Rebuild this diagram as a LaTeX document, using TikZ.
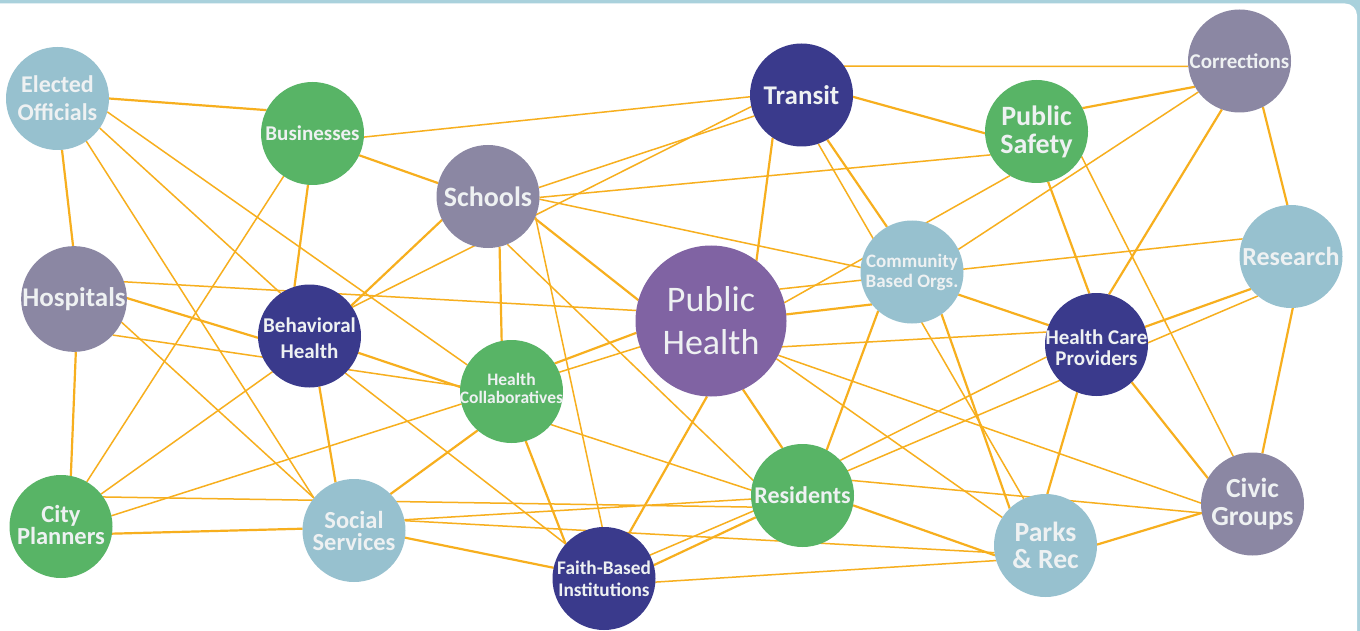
\documentclass[tikz,border=0pt]{standalone}
\usepackage{fontspec}
\setmainfont{Carlito}
\usetikzlibrary{backgrounds}

\definecolor{skyc}{HTML}{97C1CF}
\definecolor{leaf}{HTML}{58B466}
\definecolor{slate}{HTML}{8B87A3}
\definecolor{navy}{HTML}{3A3A8C}
\definecolor{plum}{HTML}{8063A3}
\definecolor{wire}{HTML}{F7AF1E}
\definecolor{labeltext}{HTML}{EEF1F2}
\definecolor{framec}{HTML}{A9D1DC}

% label font: size, baseline skip, bold
\newcommand{\lbl}[2]{\fontsize{#1}{#2}\selectfont\lineskiplimit=-50pt\lineskip=0pt\bfseries}

\tikzset{
  hub/.style={circle, minimum size=103pt, inner sep=0pt, outer sep=0pt,
              text=labeltext, align=center},
  caption/.style={inner sep=0pt, text=labeltext, align=center},
  tie/.style={draw=wire, line width=1.5pt},
  tiebold/.style={draw=wire, line width=2.2pt},
}

\begin{document}
\begin{tikzpicture}[x=1pt,y=-1pt]
\useasboundingbox (0,0) rectangle (1360,631);

% stakeholders
\node[hub, fill=skyc,  font=\lbl{24}{28}]     (eo)   at (57.5,98.5)   {Elected\\Officials};
\node[hub, fill=leaf,  font=\lbl{21}{25}]     (bus)  at (312.5,133.5) {Businesses};
\node[hub, fill=slate, font=\lbl{28}{32}]     (sch)  at (488,196.5)   {Schools};
\node[hub, fill=navy,  font=\lbl{27}{31}]     (tra)  at (801.5,95)    {Transit};
\node[hub, fill=slate, font=\lbl{21}{25}]     (cor)  at (1239.5,61)   {Corrections};
\node[hub, fill=leaf,  font=\lbl{28}{28}]     (ps)   at (1036.5,131.5){Public\\Safety};
\node[hub, fill=skyc,  font=\lbl{26}{30}]     (rsc)  at (1291,256.5)  {Research};
\node[hub, fill=skyc,  font=\lbl{19}{20}]     (cbo)  at (912,272)     {Community\\Based Orgs.};
\node[hub, fill=plum,  minimum size=151pt,
      font=\fontsize{36}{43}\selectfont]      (ph)   at (711,321)     {Public\\Health};
\node[hub, fill=slate, font=\lbl{27}{31}]     (hos)  at (74,299)      {Hospitals};
\node[hub, fill=navy,
      label={[caption, font=\lbl{21}{26}, yshift=-2.5pt]center:{Behavioral\\Health}}]
                                              (bh)   at (309.5,336)   {};
\node[hub, fill=leaf,
      label={[caption, font=\lbl{17.5}{17.5}, yshift=3pt]center:{Health\\Collaboratives}}]
                                              (hc)   at (511.5,391.5) {};
\node[hub, fill=navy,
      label={[caption, font=\lbl{21}{21}, yshift=-3pt]center:{Health Care\\Providers}}]
                                              (hcp)  at (1096.5,344.5){};
\node[hub, fill=leaf,
      label={[caption, font=\lbl{24.5}{22.5}, yshift=1.5pt]center:{City\\Planners}}]
                                              (cp)   at (61,526.5)    {};
\node[hub, fill=skyc,  font=\lbl{24.5}{22}]   (ss)   at (354,530.5)   {Social\\Services};
\node[hub, fill=navy,  font=\lbl{19.3}{21.7}] (fb)   at (604,578.5)   {Faith-Based\\Institutions};
\node[hub, fill=leaf,  font=\lbl{24}{28}]     (resi) at (802.5,495.5) {Residents};
\node[hub, fill=skyc,  font=\lbl{27.7}{27.7}] (pr)   at (1045.5,545.5){Parks\\\& Rec};
\node[hub, fill=slate, font=\lbl{27.6}{28.7}] (cg)   at (1252.5,504)  {Civic\\Groups};

\begin{scope}[on background layer]
  % frame
  \fill[framec] (0,0) rectangle (1360,631);
  \fill[white, rounded corners=12pt] (-20,3.5) rectangle (1357,660);

  % connections
  \draw[tiebold] (eo.0)    -- (bus.153);
  \draw[tie]     (eo.-15)  -- (hc.149);
  \draw[tie]     (eo.-35)  -- (bh.124);
  \draw[tie]     (eo.-56)  -- (ss.141);
  \draw[tiebold] (eo.-85)  -- (hos.91);
  \draw[tie]     (bus.-4)  -- (tra.182);
  \draw[tiebold] (bus.-25) -- (sch.165);
  \draw[tiebold] (bus.-95) -- (bh.107);
  \draw[tie]     (bus.-124)-- (cp.60);
  \draw[tie]     (hos.19)  -- (ph.172);
  \draw[tiebold] (hos.1)   -- (bh.182);
  \draw[tie]     (hos.-43) -- (hc.174);
  \draw[tie]     (hos.-26) -- (ss.141);
  \draw[tiebold] (hos.-88) -- (cp.79);
  \draw[tiebold] (sch.207) -- (bh.36);
  \draw[tie]     (tra.193) -- (bh.34);
  \draw[tie]     (tra.204) -- (sch.10);
  \draw[tie]     (sch.-1)  -- (ps.207);
  \draw[tie]     (sch.-3)  -- (cbo.175);
  \draw[tiebold] (sch.-25) -- (ph.164);
  \draw[tie]     (sch.-68) -- (resi.163);
  \draw[tie]     (sch.-23) -- (fb.92);
  \draw[tiebold] (sch.-77) -- (hc.101);
  \draw[tiebold] (tra.236) -- (ph.53);
  \draw[tiebold] (tra.-60) -- (cbo.119);
  \draw[tie]     (tra.-71) -- (pr.115);
  \draw[tie]     (tra.34)  -- (cor.186);
  \draw[tiebold] (tra.-2)  -- (ps.182);
  \draw[tiebold] (ps.27)   -- (cor.210);
  \draw[tie]     (ps.239)  -- (ph.14);
  \draw[tie]     (cor.217) -- (cbo.26);
  \draw[tiebold] (cor.250) -- (hcp.76);
  \draw[tiebold] (cor.-63) -- (rsc.94);
  \draw[tiebold] (ps.-77)  -- (hcp.98);
  \draw[tie]     (ps.-29)  -- (cg.112);
  \draw[tie]     (rsc.160) -- (ph.25);
  \draw[tiebold] (ph.5)    -- (cbo.219);
  \draw[tiebold] (cbo.-26) -- (hcp.158);
  \draw[tie]     (ph.-20)  -- (hcp.166);
  \draw[tie]     (ph.-27)  -- (cg.179);
  \draw[tie]     (ph.-30)  -- (pr.147);
  \draw[tiebold] (ph.-65)  -- (resi.113);
  \draw[tiebold] (ph.267)  -- (fb.61);
  \draw[tiebold] (ph.189)  -- (hc.33);
  \draw[tie]     (ph.200)  -- (hc.22);
  \draw[tiebold] (cbo.229) -- (resi.62);
  \draw[tiebold] (cbo.-55) -- (pr.134);
  \draw[tiebold] (hcp.20)  -- (rsc.219);
  \draw[tie]     (rsc.230) -- (fb.27);
  \draw[tie]     (resi.43) -- (hcp.194);
  \draw[tiebold] (hcp.-47) -- (cg.150);
  \draw[tiebold] (hcp.248) -- (pr.88);
  \draw[tiebold] (rsc.-88) -- (cg.79);
  \draw[tie]     (resi.17) -- (cg.190);
  \draw[tiebold] (resi.-11)-- (pr.191);
  \draw[tiebold] (pr.1)    -- (cg.190);
  \draw[tie]     (ss.11)   -- (pr.188);
  \draw[tie]     (fb.-4)   -- (pr.197);
  \draw[tiebold] (fb.15)   -- (resi.205);
  \draw[tie]     (ss.12)   -- (resi.184);
  \draw[tie]     (cp.35)   -- (resi.193);
  \draw[tie]     (cp.39)   -- (bh.224);
  \draw[tie]     (cp.12)   -- (hc.194);
  \draw[tiebold] (cp.-8)   -- (ss.178);
  \draw[tiebold] (bh.-79)  -- (ss.111);
  \draw[tiebold] (bh.-19)  -- (hc.175);
  \draw[tie]     (bh.-46)  -- (fb.138);
  \draw[tiebold] (hc.-74)  -- (fb.138);
  \draw[tie]     (hc.-40)  -- (resi.174);
  \draw[tiebold] (ss.45)   -- (hc.229);
  \draw[tiebold] (ss.-8)   -- (fb.168);
\end{scope}
\end{tikzpicture}
\end{document}
